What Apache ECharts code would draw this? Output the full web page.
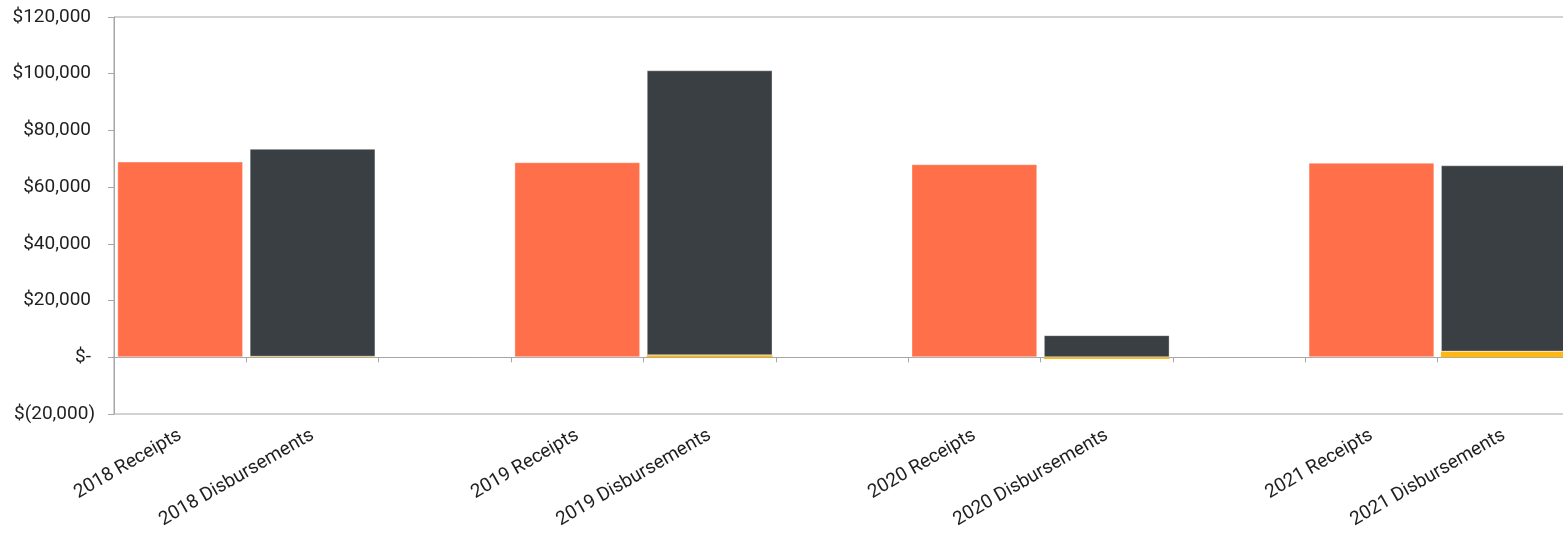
<!DOCTYPE html>
<html>
<head>
<meta charset="utf-8">
<script src="https://cdn.jsdelivr.net/npm/echarts@6/dist/echarts.min.js"></script>
<style>
html,body{margin:0;padding:0;background:#fff;overflow:hidden;}
#c{width:1571px;height:533px;}
</style>
</head>
<body>
<div id="c"></div>
<script>
const categories = ['2018 Receipts','2018 Disbursements','', '2019 Receipts','2019 Disbursements','', '2020 Receipts','2020 Disbursements','', '2021 Receipts','2021 Disbursements'];
const receipts      = [69000, null, null, 68800, null, null, 68100, null, null, 68600, null];
const otherSegment  = [null, 200, null, null, 700, null, null, -600, null, null, 2000];
const disbursements = [null, 73300, null, null, 100500, null, null, 7800, null, null, 65700];
const yTicks = {min: -20000, max: 120000, interval: 20000};

const FONT = 'Roboto';
const TXT = '#1f1f1f';
const AX = '#A6A6A6';
const FS = 19;

function fmtY(v){
  if (v === 0) return '{p|$-}';
  if (v < 0) return '{n|$(' + Math.abs(v).toLocaleString('en-US') + ')}';
  return '{p|$' + v.toLocaleString('en-US') + '}';
}

const chart = echarts.init(document.getElementById('c'), null, {renderer:'canvas'});
const border = {borderColor:'rgba(255,255,255,0.35)', borderWidth:1};
chart.setOption({
  animation:false,
  backgroundColor:'#ffffff',
  grid:{left:114, top:17, right:1, bottom:119, show:true, borderColor:AX, borderWidth:1, containLabel:false},
  xAxis:[
    {type:'category', data:categories, position:'bottom',
     axisLine:{show:true, onZero:true, lineStyle:{color:AX, width:1}},
     axisTick:{show:true, length:5, interval:0, lineStyle:{color:AX}},
     axisLabel:{show:false}, splitLine:{show:false}},
    {type:'category', data:categories, position:'bottom',
     axisLine:{show:false, onZero:false}, axisTick:{show:false},
     axisLabel:{show:true, interval:0, rotate:30, margin:20, fontFamily:FONT, fontSize:FS, color:TXT},
     splitLine:{show:false}}
  ],
  yAxis:{type:'value', min:yTicks.min, max:yTicks.max, interval:yTicks.interval,
    axisLine:{show:true, lineStyle:{color:AX}},
    axisTick:{show:true, length:6, lineStyle:{color:AX}},
    splitLine:{show:false},
    axisLabel:{margin:19, formatter:fmtY, fontFamily:FONT, fontSize:FS, color:TXT,
      rich:{p:{fontFamily:FONT, fontSize:FS, color:TXT, padding:[0,4,0,0]}, n:{fontFamily:FONT, fontSize:FS, color:TXT}}}
  },
  series:[
    {name:'Receipts', type:'bar', xAxisIndex:0, stack:'s', data:receipts, barWidth:'95%', itemStyle:Object.assign({color:'#FF704A'}, border)},
    {name:'Other', type:'bar', xAxisIndex:0, stack:'s', data:otherSegment, barWidth:'95%', itemStyle:{color:'#FDB813'}},
    {name:'Disbursements', type:'bar', xAxisIndex:0, stack:'s', data:disbursements, barWidth:'95%', itemStyle:Object.assign({color:'#3A3F43'}, border)}
  ]
});
</script>
</body>
</html>
